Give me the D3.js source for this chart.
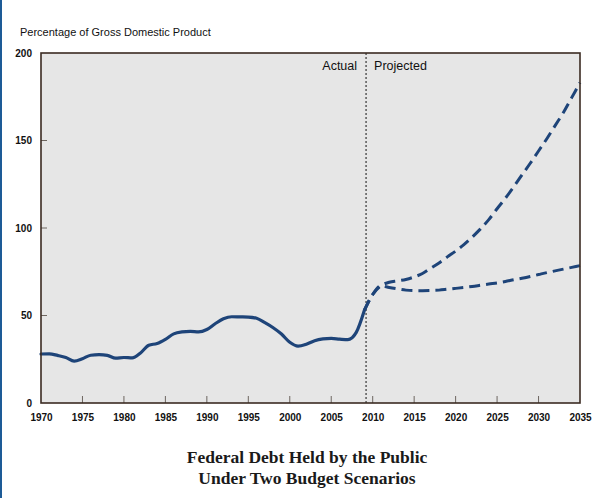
<!DOCTYPE html>
<html>
<head>
<meta charset="utf-8">
<script src="https://cdn.jsdelivr.net/npm/d3@7"></script>
<style>
  html, body { margin: 0; padding: 0; background: #fff; }
  svg { display: block; }
</style>
</head>
<body>
<svg id="chart" width="597" height="498"></svg>
<script>
// ---- data ----
const actualYears = [1970,1971,1972,1973,1974,1975,1976,1977,1978,1979,1980,1981,1982,1983,1984,1985,1986,1987,1988,1989,1990,1991,1992,1993,1994,1995,1996,1997,1998,1999,2000,2001,2002,2003,2004,2005,2006,2007,2008,2009];
const actualValues = [28.0,28.1,27.2,26.0,23.9,25.3,27.3,27.6,27.2,25.6,26.0,25.8,28.6,33.0,34.0,36.4,39.5,40.6,40.9,40.6,42.0,45.3,48.1,49.3,49.2,49.1,48.4,45.9,43.0,39.4,34.7,32.5,33.6,35.6,36.6,36.9,36.5,36.2,40.2,53.0];

const projYears = [2009,2010,2011,2012,2013,2014,2015,2016,2017,2018,2019,2020,2021,2022,2023,2024,2025,2026,2027,2028,2029,2030,2031,2032,2033,2034,2035];
const alternativeValues = [53.0,62.0,67.0,69.0,69.8,70.6,72.0,74.0,77.0,80.0,83.5,86.8,90.5,94.8,99.5,104.8,111.0,117.0,123.5,130.3,137.0,144.0,151.0,158.5,166.0,174.5,183.0];
const baselineValues   = [53.0,62.0,67.0,66.0,65.2,64.5,64.2,64.2,64.3,64.5,65.0,65.5,66.0,66.6,67.3,68.0,68.6,69.4,70.4,71.3,72.3,73.4,74.5,75.5,76.5,77.5,78.5];

const dividerYear = 2009.2;
const xTickValues = [1970,1975,1980,1985,1990,1995,2000,2005,2010,2015,2020,2025,2030,2035];
const yTickValues = [0,50,100,150,200];
const yAxisTitle = "Percentage of Gross Domestic Product";
const titleLines = ["Federal Debt Held by the Public", "Under Two Budget Scenarios"];
const periodLabels = ["Actual", "Projected"];

// ---- layout ----
const svg = d3.select("#chart");
const W = 597, H = 498;
const m = { left: 41, top: 53, right: 17, bottom: 95 };
const pw = W - m.left - m.right, ph = H - m.top - m.bottom;

const x = d3.scaleLinear().domain([1970, 2035]).range([m.left, m.left + pw]);
const y = d3.scaleLinear().domain([0, 200]).range([m.top + ph, m.top]);

const lineColor = "#1e4479";
const frameColor = "#3b2b22";

// left blue edge strip
svg.append("rect").attr("x", 0).attr("y", 0).attr("width", 2).attr("height", H).attr("fill", "#1d5b97");

// plot background
svg.append("rect")
  .attr("x", x(1970)).attr("y", y(200))
  .attr("width", x(2035) - x(1970)).attr("height", y(0) - y(200))
  .attr("fill", "#e6e6e6");

// y axis title
svg.append("text")
  .attr("x", 20).attr("y", 36)
  .attr("font-family", "Liberation Sans, Arial, sans-serif")
  .attr("font-size", 11).attr("fill", "#111")
  .text(yAxisTitle);

// inner ticks bottom
const xInner = xTickValues.filter(v => v > 1970 && v < 2035);
svg.append("g").selectAll("line").data(xInner).join("line")
  .attr("x1", d => x(d)).attr("x2", d => x(d))
  .attr("y1", y(0)).attr("y2", y(0) - 7)
  .attr("stroke", "#6d6660").attr("stroke-width", 1);

// inner ticks left
const yInner = yTickValues.filter(v => v > 0 && v < 200);
svg.append("g").selectAll("line").data(yInner).join("line")
  .attr("x1", x(1970)).attr("x2", x(1970) + 6)
  .attr("y1", d => y(d)).attr("y2", d => y(d))
  .attr("stroke", "#6d6660").attr("stroke-width", 1);

// y labels via axis
const yAxis = d3.axisLeft(y).tickValues(yTickValues).tickSize(0).tickPadding(9).tickFormat(d3.format("d"));
const gy = svg.append("g").attr("transform", `translate(${x(1970)},0)`).call(yAxis);
gy.select(".domain").remove();
gy.selectAll("text")
  .attr("font-family", "Liberation Sans, Arial, sans-serif")
  .attr("font-size", 10).attr("font-weight", "bold").attr("fill", "#111");

// x labels via axis
const xAxis = d3.axisBottom(x).tickValues(xTickValues).tickSize(0).tickPadding(11).tickFormat(d3.format("d"));
const gx = svg.append("g").attr("transform", `translate(0,${y(0)})`).call(xAxis);
gx.select(".domain").remove();
gx.selectAll("text")
  .attr("font-family", "Liberation Sans, Arial, sans-serif")
  .attr("font-size", 10).attr("font-weight", "bold").attr("fill", "#111");

// divider
svg.append("line")
  .attr("x1", x(dividerYear)).attr("x2", x(dividerYear))
  .attr("y1", y(200)).attr("y2", y(0))
  .attr("stroke", "#111").attr("stroke-width", 1).attr("stroke-dasharray", "2,2");

svg.append("text")
  .attr("x", x(dividerYear) - 9).attr("y", y(200) + 17)
  .attr("text-anchor", "end")
  .attr("font-family", "Liberation Sans, Arial, sans-serif")
  .attr("font-size", 12.5).attr("fill", "#111")
  .text(periodLabels[0]);
svg.append("text")
  .attr("x", x(dividerYear) + 8).attr("y", y(200) + 17)
  .attr("font-family", "Liberation Sans, Arial, sans-serif")
  .attr("font-size", 12.5).attr("fill", "#111")
  .text(periodLabels[1]);

// lines
const line = d3.line().x(d => x(d[0])).y(d => y(d[1])).curve(d3.curveMonotoneX);

svg.append("path")
  .datum(actualYears.map((yr, i) => [yr, actualValues[i]]))
  .attr("d", line).attr("fill", "none")
  .attr("stroke", lineColor).attr("stroke-width", 3.2)
  .attr("stroke-linejoin", "round").attr("stroke-linecap", "round");

[alternativeValues, baselineValues].forEach(vals => {
  svg.append("path")
    .datum(projYears.map((yr, i) => [yr, vals[i]]))
    .attr("d", line).attr("fill", "none")
    .attr("stroke", lineColor).attr("stroke-width", 3)
    .attr("stroke-dasharray", "11,6");
});

// frame
svg.append("rect")
  .attr("x", x(1970)).attr("y", y(200))
  .attr("width", x(2035) - x(1970)).attr("height", y(0) - y(200))
  .attr("fill", "none").attr("stroke", frameColor).attr("stroke-width", 1.6);

// title
const title = svg.append("text")
  .attr("x", 307).attr("y", 463)
  .attr("text-anchor", "middle")
  .attr("font-family", "Liberation Serif, 'Times New Roman', serif")
  .attr("font-size", 17.5).attr("font-weight", "bold").attr("fill", "#1a1a1a");
titleLines.forEach((t, i) => {
  title.append("tspan").attr("x", 307).attr("dy", i === 0 ? 0 : 21).text(t);
});
</script>
</body>
</html>
